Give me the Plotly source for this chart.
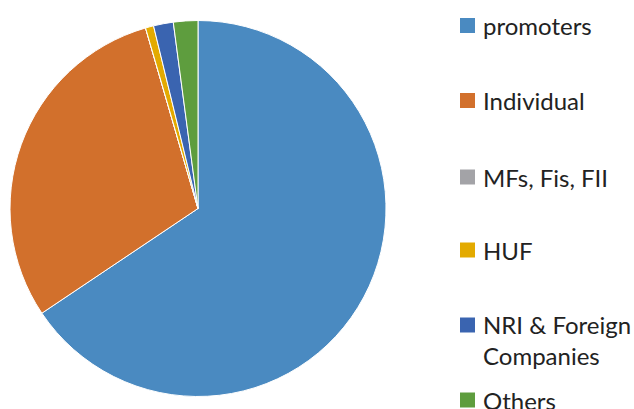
import plotly.graph_objects as go

labels = ["promoters", "Individual", "MFs, Fis, FII", "HUF", "NRI & Foreign Companies", "Others"]
display_labels = ["promoters", "Individual", "MFs, Fis, FII", "HUF", "NRI & Foreign<br>Companies", "Others"]
values = [65.6, 29.9, 0.0, 0.7, 1.7, 2.1]
colors = ["#4A8AC1", "#D2702C", "#A3A3A7", "#E3AA00", "#3A64B0", "#5E9D3E"]

W, H = 634, 409
fig = go.Figure()
fig.add_trace(go.Pie(
    labels=labels, values=values, sort=False, direction="clockwise", rotation=0,
    marker=dict(colors=colors, line=dict(color="white", width=1)),
    textinfo="none", hoverinfo="label+percent", showlegend=False,
    domain=dict(x=[(198 - 188) / W, (198 + 188) / W], y=[(H - 208.5 - 188) / H, (H - 208.5 + 188) / H]),
))

# manual legend
legend_y = [25.5, 100.5, 177, 250, 325, 400]
for lab, col, yc in zip(display_labels, colors, legend_y):
    fig.add_shape(type="rect", xref="paper", yref="paper",
                  x0=460 / W, x1=475 / W, y0=(H - yc - 7.5) / H, y1=(H - yc + 7.5) / H,
                  fillcolor=col, line=dict(width=0))
    nlines = lab.count("<br>") + 1
    ymid = yc + (nlines - 1) * 15
    fig.add_annotation(text=lab, xref="paper", yref="paper", x=481 / W, y=(H - ymid) / H,
                       xanchor="left", yanchor="middle", showarrow=False, align="left",
                       font=dict(family="Lato", size=24, color="#222222"))

fig.update_layout(width=W, height=H, margin=dict(l=0, r=0, t=0, b=0),
                  paper_bgcolor="white", plot_bgcolor="white")
fig.write_html("out.html", post_script="document.body.style.margin='0';",
               config={"displayModeBar": False})
